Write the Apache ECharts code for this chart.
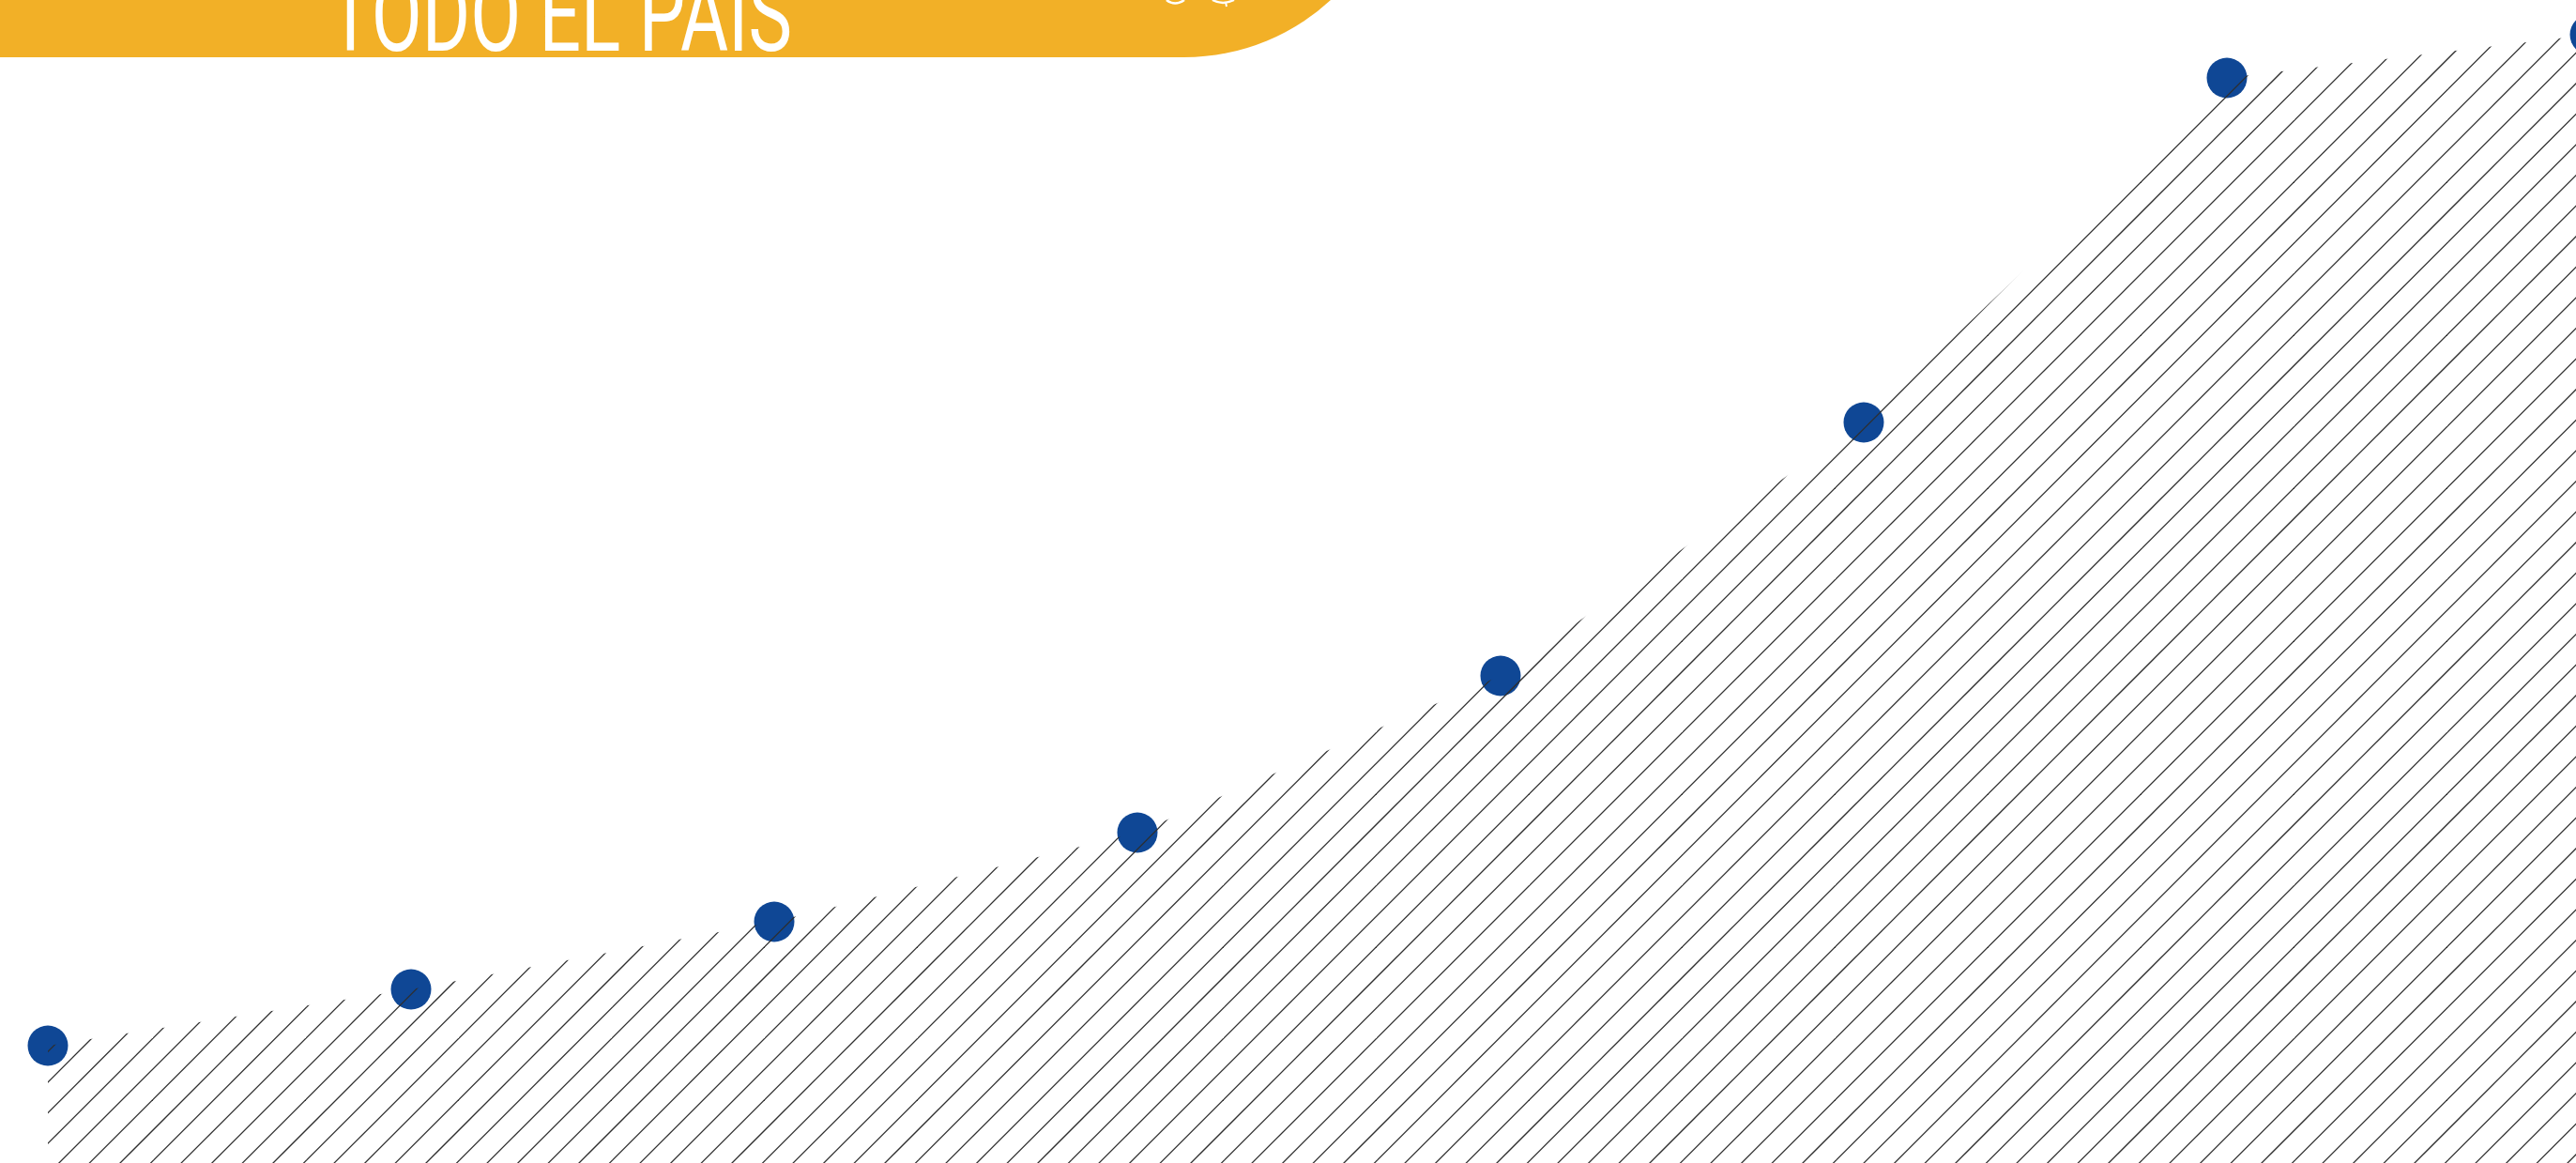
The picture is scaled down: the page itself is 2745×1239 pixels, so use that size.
<!DOCTYPE html>
<html>
<head>
<meta charset="utf-8">
<script src="https://cdn.jsdelivr.net/npm/echarts@6/dist/echarts.min.js"></script>
<style>
html,body{margin:0;padding:0;background:#fff;}
#c{width:2745px;height:1239px;}
</style>
</head>
<body>
<div id="c"></div>
<script>
// ---- data (vertical units are arbitrary) ----
var categories = ['1', '2', '3', '4', '5', '6', '7', '8'];
var values = [125, 185, 257, 352, 519, 789, 1156, 1202];
var yMin = 0;
var yMax = 1239;
var title = 'TODO EL PAÍS';

// points: category position (index) and value
var points = values.map(function (v, i) { return [i, v]; });

// ---- hatch pattern ----
var T = 163, P = 32.6, phase = 30.4;
var tile = document.createElement('canvas');
tile.width = T; tile.height = T;
var g = tile.getContext('2d');
g.strokeStyle = '#2e2e2e';
g.lineWidth = 1.25;
for (var k = -3; k < 14; k++) {
  var c = phase + k * P;
  g.beginPath();
  g.moveTo(c + 20, -20);
  g.lineTo(c - T - 20, T + 20);
  g.stroke();
}

// ---- title measurement for condensed look ----
var fontSize = 112;
var fontFamily = 'Roboto';
var fontWeight = 400;
var mc = document.createElement('canvas').getContext('2d');
mc.font = fontWeight + ' ' + fontSize + 'px ' + fontFamily;
var tw = mc.measureText(title).width;
var targetW = 494;
var sx = targetW / tw;

var gridLeft = 51, gridRight = 0, step = 387;
var xMax = (2745 - gridLeft - gridRight) / step;

var chart = echarts.init(document.getElementById('c'), null, {renderer: 'canvas'});
chart.setOption({
  animation: false,
  backgroundColor: '#ffffff',
  grid: {left: gridLeft, right: gridRight, top: 0, bottom: 0, containLabel: false},
  xAxis: {
    type: 'value', min: 0, max: xMax, show: false
  },
  yAxis: {
    type: 'value', min: yMin, max: yMax, show: false
  },
  series: [
    {
      type: 'scatter',
      data: points,
      symbolSize: 43,
      itemStyle: {color: '#0F4795', opacity: 1},
      clip: false,
      silent: true,
      z: 2
    },
    {
      type: 'line',
      data: points,
      showSymbol: false,
      symbol: 'none',
      clip: false,
      silent: true,
      lineStyle: {width: 0, opacity: 0},
      areaStyle: {color: {image: tile, repeat: 'repeat'}, opacity: 1},
      z: 5
    }
  ],
  graphic: [
    {
      type: 'rect',
      silent: true,
      z: 10,
      shape: {x: -40, y: 61 - 700, width: 1262 + 230 + 40, height: 700, r: [0, 0, 230, 0]},
      style: {fill: '#F2B027'}
    },
    {
      type: 'text',
      silent: true,
      z: 11,
      x: 350,
      y: 26,
      scaleX: sx,
      style: {
        text: title,
        fill: '#ffffff',
        fontSize: fontSize,
        fontWeight: fontWeight,
        fontFamily: fontFamily,
        align: 'left',
        verticalAlign: 'middle'
      }
    },
    {
      type: 'bezierCurve',
      silent: true,
      z: 11,
      shape: {x1: 1243, y1: 0, x2: 1262, y2: 0, cpx1: 1252, cpy1: 7},
      style: {stroke: '#ffffff', lineWidth: 2.5, fill: null}
    },
    {
      type: 'bezierCurve',
      silent: true,
      z: 11,
      shape: {x1: 1292, y1: 0, x2: 1315, y2: 0, cpx1: 1303, cpy1: 6},
      style: {stroke: '#ffffff', lineWidth: 2.5, fill: null}
    },
    {
      type: 'line',
      silent: true,
      z: 11,
      shape: {x1: 1306, y1: 2, x2: 1307, y2: 7},
      style: {stroke: '#ffffff', lineWidth: 2}
    }
  ]
});
</script>
</body>
</html>
